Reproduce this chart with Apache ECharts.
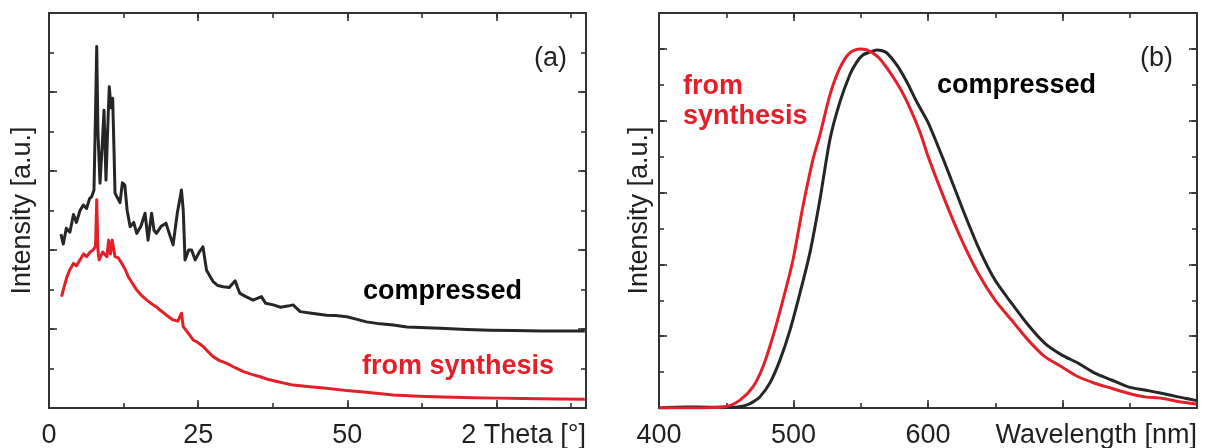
<!DOCTYPE html>
<html>
<head>
<meta charset="utf-8">
<script src="https://cdn.jsdelivr.net/npm/echarts@6/dist/echarts.min.js"></script>
<style>html,body{margin:0;padding:0;background:#fff}#c{width:1205px;height:448px}</style>
</head>
<body>
<div id="c"></div>
<script>
// ---------- DATA ----------
// (a) XRD: [2 theta (deg), intensity (a.u.)]
const xrdCompressed = [[2.0,4.40],[2.4,4.15],[2.9,4.55],[3.5,4.45],[4.1,4.9],[4.6,4.7],[5.2,5.0],[5.75,5.14],[6.3,5.05],[6.8,5.3],[7.15,5.35],[7.54,5.52],[7.8,7.5],[8.0,9.15],[8.2,7.0],[8.55,5.69],[8.9,6.6],[9.22,7.54],[9.55,5.77],[9.8,6.9],[10.1,8.13],[10.4,7.6],[10.67,7.84],[10.9,6.5],[11.06,5.44],[11.3,5.44],[11.9,5.2],[12.3,5.7],[12.7,5.65],[13.1,5.0],[13.6,4.59],[14.2,4.7],[14.7,4.42],[15.4,4.6],[16.1,4.93],[16.6,4.25],[17.2,4.93],[17.6,4.5],[18.0,4.42],[18.8,4.6],[19.6,4.68],[20.2,4.4],[20.8,4.13],[21.5,4.93],[22.2,5.52],[22.5,5.0],[22.8,3.75],[23.4,4.0],[23.9,4.0],[24.5,3.75],[25.2,3.95],[25.8,4.08],[26.4,3.49],[27.5,3.2],[28.3,3.1],[29.2,3.07],[30.2,3.05],[31.2,3.22],[31.6,3.05],[32.0,2.9],[33.0,2.82],[34.2,2.73],[35.6,2.82],[36.3,2.65],[37.6,2.61],[38.8,2.55],[40.0,2.58],[40.9,2.61],[42.1,2.44],[44.0,2.40],[46.5,2.35],[48.0,2.34],[49.9,2.31],[51.5,2.25],[53.2,2.18],[55.5,2.13],[57.7,2.1],[60.0,2.05],[65.5,2.02],[70,1.99],[73.9,1.97],[78,1.96],[82.3,1.95],[86,1.95],[89.8,1.95]];
const xrdSynthesis = [[2.1,2.82],[2.5,3.05],[3.0,3.32],[3.5,3.5],[4.1,3.66],[4.6,3.6],[5.2,3.75],[5.8,3.9],[6.3,3.83],[6.9,3.95],[7.4,4.0],[7.8,4.1],[8.0,5.27],[8.2,4.0],[8.4,3.75],[9.0,3.95],[9.7,3.83],[10.0,4.25],[10.3,3.9],[10.6,4.25],[11.06,3.83],[11.6,3.8],[12.2,3.66],[12.8,3.5],[13.3,3.32],[14.0,3.15],[14.7,2.99],[15.5,2.85],[16.4,2.73],[17.2,2.64],[18.0,2.56],[18.6,2.48],[19.7,2.35],[20.8,2.23],[21.6,2.2],[22.2,2.4],[22.5,2.06],[23.3,1.9],[24.2,1.72],[25.0,1.65],[25.9,1.55],[26.7,1.42],[27.5,1.3],[28.6,1.2],[29.8,1.13],[31.2,1.02],[32.6,0.92],[34.0,0.85],[35.4,0.79],[36.8,0.72],[38.2,0.67],[40.9,0.58],[43.7,0.54],[46.5,0.5],[49.9,0.44],[53.2,0.40],[57.7,0.33],[62,0.3],[66,0.28],[71.1,0.26],[75,0.25],[79.5,0.24],[85,0.23],[89.8,0.22]];
// (b) PL: [wavelength (nm), normalised intensity]
const plCompressed = [[400,0],[420,0.003],[440,0.002],[455,0.002],[465,0.008],[470,0.017],[475,0.031],[482.5,0.07],[490,0.134],[497.4,0.217],[504.8,0.32],[512.2,0.432],[519.6,0.579],[527.1,0.748],[534.5,0.852],[541.9,0.928],[547.1,0.964],[551.6,0.983],[556,0.99],[562,0.997],[566,0.995],[569.4,0.989],[576.9,0.955],[584.3,0.908],[591.7,0.852],[600.1,0.795],[612.5,0.682],[625,0.561],[637.3,0.449],[649.7,0.357],[662.1,0.292],[674.5,0.231],[686.9,0.180],[699.3,0.148],[711.6,0.125],[724,0.097],[736.4,0.078],[748.8,0.059],[761.2,0.050],[773.6,0.041],[785.9,0.031],[798.3,0.022],[800,0.02]];
const plSynthesis = [[400,0],[430,0],[450,0.004],[460.2,0.022],[469.9,0.059],[477.3,0.115],[484.7,0.199],[492.2,0.301],[499.6,0.412],[507,0.561],[514.4,0.691],[519.6,0.76],[527.1,0.872],[534.5,0.947],[541.9,0.989],[549.4,1.0],[554.6,0.997],[562.8,0.978],[569.4,0.947],[579.1,0.891],[586.5,0.836],[594,0.769],[600.1,0.70],[612.5,0.579],[625,0.468],[637.3,0.375],[649.7,0.301],[662.1,0.245],[674.5,0.189],[686.9,0.143],[699.3,0.115],[711.6,0.087],[724,0.069],[736.4,0.055],[748.8,0.041],[761.2,0.031],[773.6,0.027],[785.9,0.018],[799.6,0.011]];
// tick labels shown
const xrdTickLabels = ['0','25','50'];
const plTickLabels = ['400','500','600'];
const axisNames = {xrdX:'2 Theta [°]', plX:'Wavelength [nm]', y:'Intensity [a.u.]'};
const seriesNames = {compressed:'compressed', synthesis:'from synthesis'};

// ---------- STYLE ----------
const FONT = '"Liberation Sans", Arial, Helvetica, sans-serif';
const AX = '#333333';
const TXT = '#231f20';
const RED = '#e3202a';
const BLK = '#262626';

function xAxisDef(grid, pos, min, max, interval, len, labels, name) {
  const a = {
    type:'value', gridIndex:grid, position:pos, min:min, max:max, interval:interval,
    axisLine:{show:true, onZero:false, lineStyle:{color:AX, width:2}},
    axisTick:{show:true, inside:true, length:len, lineStyle:{color:AX, width:1.6}},
    splitLine:{show:false},
    axisLabel:{show:false}
  };
  if (labels) {
    a.axisLabel = {show:true, margin:14, fontSize:27, color:TXT, fontFamily:FONT,
      formatter:(v)=> labels.includes(String(v)) ? String(v) : ''};
  }
  if (name) {
    a.name = name; a.nameLocation = 'end'; a.nameGap = 0;
    a.nameTextStyle = {align:'right', verticalAlign:'top', padding:[14,0,0,0], fontSize:27, color:TXT, fontFamily:FONT};
  }
  return a;
}
function yAxisDef(grid, pos, min, max, interval, len, name, gap) {
  const a = {
    type:'value', gridIndex:grid, position:pos, min:min, max:max, interval:interval,
    axisLine:{show:true, onZero:false, lineStyle:{color:AX, width:2}},
    axisTick:{show:true, inside:true, length:len, lineStyle:{color:AX, width:1.6}},
    splitLine:{show:false},
    axisLabel:{show:false}
  };
  if (name) {
    a.name = name; a.nameLocation = 'middle'; a.nameGap = gap;
    a.nameTextStyle = {fontSize:27, color:TXT, fontFamily:FONT};
  }
  return a;
}

const xAxes = [
  // grid 0 (XRD)
  xAxisDef(0,'bottom',0,90,25,8,xrdTickLabels,axisNames.xrdX),
  xAxisDef(0,'bottom',0,90,12.5,5),
  xAxisDef(0,'top',0,90,25,8),
  xAxisDef(0,'top',0,90,12.5,5),
  // grid 1 (PL)
  xAxisDef(1,'bottom',400,800,100,8,plTickLabels,axisNames.plX),
  xAxisDef(1,'bottom',400,800,50,5),
  xAxisDef(1,'top',400,800,100,8),
  xAxisDef(1,'top',400,800,50,5)
];
const yAxes = [
  yAxisDef(0,'left',0,10,2,8,axisNames.y,13),
  yAxisDef(0,'left',0,10,1,5),
  yAxisDef(0,'right',0,10,2,8),
  yAxisDef(0,'right',0,10,1,5),
  yAxisDef(1,'left',0,1.1,0.2,8,axisNames.y,6),
  yAxisDef(1,'left',0,1.1,0.1,5),
  yAxisDef(1,'right',0,1.1,0.2,8),
  yAxisDef(1,'right',0,1.1,0.1,5)
];

function line(name, data, xi, yi, color, width, smooth) {
  return {type:'line', name:name, data:data, xAxisIndex:xi, yAxisIndex:yi, showSymbol:false, symbol:'none',
    smooth:smooth||false,
    lineStyle:{color:color, width:width, join:'round'}, itemStyle:{color:color}, silent:true};
}

function txt(text, x, y, color, bold, align) {
  return {type:'text', x:x, y:y, silent:true, z:100,
    style:{text:text, fill:color, font:(bold?'bold ':'')+'27px '+FONT, align:align||'left', verticalAlign:'top'}};
}

const option = {
  animation:false,
  backgroundColor:'#fff',
  grid:[
    {left:49, top:13, right:619, bottom:40, containLabel:false, outerBoundsMode:'none'},
    {left:659, top:13, right:8, bottom:40, containLabel:false, outerBoundsMode:'none'}
  ],
  xAxis:xAxes,
  yAxis:yAxes,
  series:[
    line(seriesNames.compressed, xrdCompressed, 0, 0, BLK, 3),
    line(seriesNames.synthesis, xrdSynthesis, 0, 0, RED, 3),
    line(seriesNames.compressed, plCompressed, 4, 4, BLK, 3, 0.25),
    line(seriesNames.synthesis, plSynthesis, 4, 4, RED, 3, 0.25)
  ],
  graphic:[
    txt('(a)', 567, 45, TXT, false, 'right'),
    txt(seriesNames.compressed, 363, 278, '#000', true),
    txt(seriesNames.synthesis, 362, 353, RED, true),
    txt('(b)', 1173, 45, TXT, false, 'right'),
    txt(seriesNames.compressed, 937, 72, '#000', true),
    txt('from', 683, 73, RED, true),
    txt('synthesis', 683, 103, RED, true)
  ]
};
const chart = echarts.init(document.getElementById('c'), null, {renderer:'canvas'});
chart.setOption(option);
</script>
</body>
</html>
